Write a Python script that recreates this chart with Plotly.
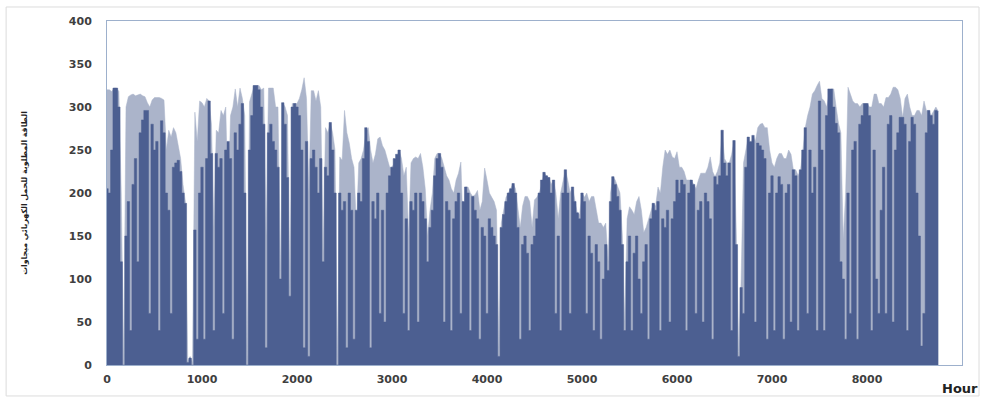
import plotly.graph_objects as go

hours = list(range(0, 8751, 25))

light_mw = [
    320, 320, 318, 322, 322, 318, 200, 5, 300, 312, 314, 315, 313, 314, 315, 313, 312, 305, 300, 308,
    311, 311, 311, 310, 308, 250, 273, 265, 276, 270, 255, 240, 210, 190, 5, 10, 3, 294, 260, 307,
    305, 300, 310, 307, 280, 160, 273, 270, 296, 290, 300, 180, 290, 300, 321, 300, 322, 310, 290, 5,
    306, 315, 325, 325, 325, 320, 322, 150, 322, 322, 322, 300, 300, 110, 305, 300, 290, 90, 304, 304,
    304, 310, 320, 334, 310, 200, 319, 319, 307, 319, 300, 130, 276, 270, 282, 270, 250, 10, 242, 238,
    296, 270, 258, 240, 230, 160, 235, 240, 250, 270, 276, 250, 235, 245, 263, 265, 255, 250, 240, 230,
    230, 235, 240, 250, 240, 220, 230, 150, 235, 240, 242, 240, 246, 230, 205, 150, 180, 200, 240, 246,
    246, 240, 230, 220, 215, 205, 200, 215, 223, 236, 150, 207, 207, 200, 196, 198, 203, 180, 190, 229,
    215, 200, 195, 190, 180, 20, 165, 180, 195, 200, 205, 211, 205, 180, 160, 185, 196, 196, 190, 160,
    192, 195, 200, 210, 224, 220, 218, 210, 215, 200, 170, 200, 215, 227, 215, 200, 207, 190, 177, 175,
    200, 195, 200, 190, 196, 196, 180, 165, 165, 160, 165, 120, 200, 219, 215, 207, 200, 150, 50, 170,
    184, 180, 175, 190, 196, 180, 154, 160, 170, 180, 188, 185, 207, 200, 230, 250, 245, 250, 242, 240,
    248, 230, 230, 225, 215, 215, 215, 210, 205, 215, 223, 223, 223, 230, 242, 225, 219, 225, 235, 273,
    240, 235, 235, 245, 261, 150, 15, 100, 235, 250, 265, 250, 267, 260, 276, 280, 281, 276, 276, 250,
    235, 230, 240, 246, 246, 240, 240, 250, 245, 227, 227, 220, 227, 250, 276, 290, 300, 315, 319, 325,
    330, 310, 307, 300, 315, 321, 321, 300, 281, 270, 146, 200, 323, 315, 307, 304, 304, 300, 304, 304,
    304, 300, 300, 315, 315, 304, 304, 300, 311, 311, 315, 323, 323, 320, 310, 288, 310, 315, 300, 290,
    290, 296, 296, 290, 307, 296, 296, 290, 296, 300, 295,
]

dark_mw = [
    205, 200, 250, 322, 322, 300, 120, 0, 150, 190, 40, 210, 240, 120, 270, 285, 296, 296, 60, 280,
    250, 260, 40, 284, 270, 200, 180, 60, 230, 235, 238, 225, 200, 188, 3, 8, 0, 157, 30, 200,
    230, 30, 240, 307, 246, 40, 246, 230, 240, 60, 250, 260, 240, 30, 270, 250, 280, 304, 200, 0,
    250, 290, 325, 325, 320, 300, 280, 20, 270, 280, 260, 250, 230, 100, 305, 280, 218, 80, 300, 304,
    300, 290, 250, 20, 260, 10, 240, 250, 230, 200, 240, 120, 230, 220, 282, 250, 200, 0, 200, 180,
    190, 20, 200, 180, 30, 180, 200, 190, 240, 276, 260, 20, 190, 170, 200, 60, 180, 50, 200, 220,
    230, 240, 245, 250, 200, 60, 170, 40, 190, 180, 200, 50, 200, 190, 170, 120, 160, 180, 220, 240,
    246, 230, 50, 190, 180, 40, 170, 190, 200, 60, 190, 207, 200, 40, 196, 180, 170, 30, 160, 150,
    60, 170, 160, 150, 140, 10, 160, 175, 190, 200, 205, 211, 200, 160, 30, 140, 150, 130, 40, 140,
    150, 170, 200, 215, 224, 220, 218, 200, 215, 60, 150, 40, 200, 227, 200, 60, 207, 190, 177, 170,
    200, 190, 60, 150, 130, 40, 140, 120, 30, 100, 140, 110, 190, 219, 210, 196, 180, 140, 40, 120,
    150, 40, 130, 150, 100, 60, 120, 140, 30, 170, 188, 180, 190, 40, 170, 160, 180, 50, 170, 190,
    215, 200, 215, 210, 40, 200, 215, 210, 60, 180, 190, 50, 200, 190, 170, 30, 219, 210, 220, 273,
    235, 220, 235, 40, 261, 140, 10, 90, 60, 230, 265, 260, 267, 50, 258, 255, 250, 240, 30, 200,
    220, 40, 200, 219, 210, 30, 200, 210, 50, 227, 220, 40, 227, 250, 276, 60, 250, 200, 230, 40,
    307, 250, 40, 290, 321, 321, 300, 281, 270, 120, 100, 30, 200, 60, 250, 260, 30, 280, 290, 304,
    304, 290, 40, 250, 100, 60, 180, 230, 60, 280, 290, 50, 250, 270, 288, 288, 280, 40, 260, 288,
    280, 200, 150, 22, 60, 270, 296, 290, 280, 296, 295,
]

x_ticks = [0, 1000, 2000, 3000, 4000, 5000, 6000, 7000, 8000]
y_ticks = [0, 50, 100, 150, 200, 250, 300, 350, 400]
y_title = "الطاقة المطلوبة للحمل الكهربائي ميجاوات"
x_title = "Hour"

LIGHT = "#abb4ca"
DARK = "#4c5f91"

fig = go.Figure()
fig.add_trace(go.Scatter(x=hours, y=light_mw, mode="lines", fill="tozeroy", line_shape="linear",
                         line=dict(color=LIGHT, width=0.5), fillcolor=LIGHT,
                         hoverinfo="skip", showlegend=False))
fig.add_trace(go.Scatter(x=hours, y=dark_mw, mode="lines", fill="tozeroy", line_shape="hvh",
                         line=dict(color=DARK, width=0.5), fillcolor=DARK,
                         hoverinfo="skip", showlegend=False))

tick_font = dict(family="DejaVu Sans, Verdana, sans-serif", size=11, color="#3f3f3f", weight="bold")

fig.update_layout(
    width=982, height=403,
    margin=dict(l=107, r=20, t=21, b=38),
    paper_bgcolor="white", plot_bgcolor="white",
    xaxis=dict(range=[0, 9000], tickvals=x_ticks, ticktext=[str(v) for v in x_ticks],
               showgrid=False, zeroline=False, showline=True, mirror=True,
               linecolor="#9db0cc", linewidth=1, ticks="outside", ticklen=4,
               tickcolor="rgba(0,0,0,0)", tickfont=tick_font),
    yaxis=dict(range=[0, 400], tickvals=y_ticks, showgrid=False, zeroline=False,
               showline=True, mirror=True, linecolor="#9db0cc", linewidth=1,
               ticks="outside", ticklen=12, tickcolor="rgba(0,0,0,0)", tickfont=tick_font,
               title=dict(text=y_title, standoff=40,
                          font=dict(family="DejaVu Sans, sans-serif", size=7.8,
                                    color="#222222", weight="bold"))),
    annotations=[dict(text=x_title, xref="paper", yref="paper", x=0.998, y=-0.042,
                      xanchor="center", yanchor="top", showarrow=False,
                      font=dict(family="DejaVu Sans, Verdana, sans-serif", size=13,
                                color="#222222", weight="bold"))],
    shapes=[dict(type="rect", xref="paper", yref="paper", x0=-0.118, x1=1.0199,
                 y0=-0.090, y1=1.0407, line=dict(color="#dcdcdc", width=1),
                 fillcolor="rgba(0,0,0,0)", layer="below")],
)

fig.write_html("out.html", config={"displayModeBar": False},
               post_script="document.body.style.margin='0px';")
